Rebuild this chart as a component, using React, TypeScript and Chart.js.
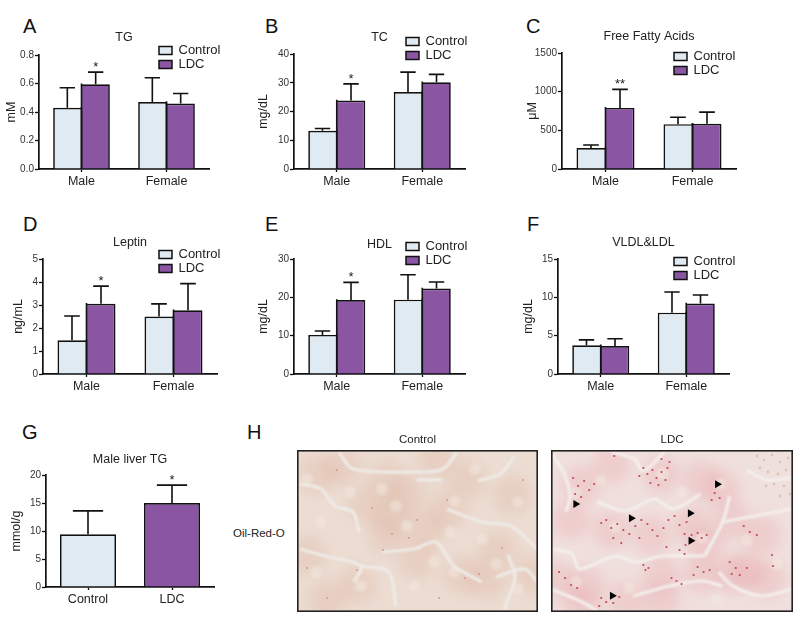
import React, { useEffect, useRef } from "react";
import { Chart, registerables } from "chart.js";

Chart.register(...registerables);

// ---------- data ----------
const sexCategories = ["Male", "Female"];
const groupCategories = ["Control", "LDC"];
const seriesNames = ["Control", "LDC"];

const tgControl = [0.43, 0.47];
const tgControlTop = [0.57, 0.64];
const tgLdc = [0.595, 0.46];
const tgLdcTop = [0.68, 0.53];
const tgMarks = ["*", ""];

const tcControl = [13.3, 26.8];
const tcControlTop = [14.1, 33.7];
const tcLdc = [23.8, 30.2];
const tcLdcTop = [29.6, 32.9];
const tcMarks = ["*", ""];

const ffaControl = [270, 580];
const ffaControlTop = [310, 670];
const ffaLdc = [790, 585];
const ffaLdcTop = [1030, 735];
const ffaMarks = ["**", ""];

const leptinControl = [1.47, 2.5];
const leptinControlTop = [2.52, 3.05];
const leptinLdc = [3.05, 2.77];
const leptinLdcTop = [3.82, 3.93];
const leptinMarks = ["*", ""];

const hdlControl = [10.2, 19.4];
const hdlControlTop = [11.2, 25.9];
const hdlLdc = [19.3, 22.3];
const hdlLdcTop = [23.9, 24];
const hdlMarks = ["*", ""];

const vldlControl = [3.75, 8.0];
const vldlControlTop = [4.45, 10.7];
const vldlLdc = [3.65, 9.2];
const vldlLdcTop = [4.6, 10.3];

const liverValues = [9.4, 15];
const liverTop = [13.6, 18.2];
const liverMarks = ["", "*"];

// Histology sketch (panel coordinates)
type P = [number, number];
const ctlPatches: P[] = [[45,17],[20,25],[96,65],[90,85],[130,80],[150,60],[200,100],[165,125],[190,130],[30,150],[90,30],[120,110],[215,45],[60,135],[10,105],[235,125],[170,30],[140,10],[70,55],[110,45]];
const ctlNuclei: P[] = [[158,51],[178,19],[199,114],[137,112],[85,39],[117,136],[64,136],[99,56],[157,122],[19,122],[221,139],[221,52],[10,29],[53,42],[185,89],[110,76],[24,72],[153,82]];
const ctlGaps: P[][] = [
  [[120,30],[133,30],[145,30]],
  [[181,31],[203,24],[218,6]],
  [[150,59],[185,72],[214,76],[240,99]],
  [[3,34],[24,39],[38,56],[56,62],[62,82]],
  [[42,2],[56,19],[121,22],[146,19],[160,2]],
  [[3,99],[28,106],[64,116],[57,132]],
  [[85,102],[117,99],[139,92],[157,116],[185,132]],
  [[64,116],[92,122],[99,156]],
  [[211,105],[218,127],[207,160]],
  [[199,127],[228,119],[240,132]],
];
const ctlDots: P[] = [[40,20],[75,58],[95,84],[120,70],[150,50],[205,98],[168,128],[30,148],[182,124],[112,88],[60,120],[142,148],[226,30],[10,118],[86,100]];

const ldcPatches: P[] = [[30,35],[60,15],[110,25],[150,30],[170,40],[20,70],[60,80],[100,85],[140,75],[155,95],[180,70],[195,120],[180,125],[35,135],[30,155],[110,125],[150,125],[215,130],[75,150],[110,150],[210,85],[5,130]];
const ldcNuclei: P[] = [[111,24],[24,43],[64,77],[169,34],[150,88],[25,132],[78,138],[165,150],[225,114],[195,90],[130,42],[50,30]];
const ldcGaps: P[][] = [
  [[0,4],[12,21],[19,46],[15,62]],
  [[60,2],[83,9],[92,21],[113,2]],
  [[46,52],[75,61],[103,49],[122,59],[149,44]],
  [[178,46],[171,72],[153,106]],
  [[171,72],[203,66],[240,59]],
  [[195,20],[215,30],[240,28]],
  [[0,99],[21,104],[28,119],[64,106],[85,112],[110,106],[153,106]],
  [[167,122],[181,136],[210,146],[240,139]],
  [[0,139],[31,152],[46,161]],
  [[82,146],[118,136],[150,131],[171,136]],
];
const ldcDots: P[] = [[92,18],[96,24],[101,20],[105,28],[110,22],[114,30],[99,33],[107,35],[116,18],[88,26],[22,28],[27,36],[33,31],[38,40],[24,44],[43,34],[30,47],[50,73],[55,70],[60,78],[66,74],[72,80],[78,84],[84,76],[90,70],[96,74],[101,80],[106,86],[112,78],[62,88],[70,93],[88,88],[117,70],[123,66],[128,75],[135,72],[133,84],[140,85],[146,83],[150,88],[155,85],[134,95],[128,100],[133,104],[163,43],[160,50],[168,48],[92,115],[94,120],[97,118],[146,117],[152,122],[158,120],[142,125],[178,112],[184,118],[180,124],[188,125],[195,118],[192,76],[198,82],[205,85],[8,122],[14,128],[20,135],[26,138],[50,148],[55,152],[62,153],[68,147],[48,156],[125,131],[130,134],[120,128],[110,9],[118,12],[63,6],[115,97],[221,116],[220,105]];
const ldcGrain: P[] = [[205,6],[212,10],[220,5],[228,12],[236,8],[208,18],[216,22],[226,24],[234,20],[222,34],[232,36],[238,44],[214,36],[228,46]];
const ldcArrows: P[] = [[165.7,34.3],[24.6,54],[138.6,63.3],[79.9,68.3],[139.3,90.7],[61,145.7]];

// ---------- styles ----------
const FONT = "'Liberation Sans', Arial, sans-serif";
const INK = "#111111";
const TEXT = "#222222";
const CONTROL_FILL = "#dfeaf2";
const LDC_FILL = "#8a55a3";

const errorPlugin = {
  id: "errorBarsAndMarks",
  afterDatasetsDraw(chart: any) {
    const { ctx, scales } = chart;
    chart.data.datasets.forEach((ds: any, di: number) => {
      const meta = chart.getDatasetMeta(di);
      meta.data.forEach((bar: any, i: number) => {
        const top = scales.y.getPixelForValue(ds.errorTop[i]);
        const base = scales.y.getPixelForValue(ds.data[i]);
        const zero = scales.y.getPixelForValue(0);
        const half = bar.width * 0.27;
        ctx.save();
        ctx.strokeStyle = INK;
        ctx.lineWidth = 1.6;
        ctx.beginPath();
        ctx.moveTo(bar.x, base);
        ctx.lineTo(bar.x, top);
        ctx.moveTo(bar.x - half, top);
        ctx.lineTo(bar.x + half, top);
        if (ds.sharedEdge) {
          const ex = bar.x + ds.sharedEdge * bar.width / 2;
          ctx.moveTo(ex, base - 0.8);
          ctx.lineTo(ex, zero);
        }
        ctx.stroke();
        const mark = ds.marks && ds.marks[i];
        if (mark) {
          ctx.fillStyle = TEXT;
          ctx.font = `13px ${FONT}`;
          ctx.textAlign = "center";
          ctx.textBaseline = "alphabetic";
          ctx.fillText(mark, bar.x, top - 1);
        }
        ctx.restore();
      });
    });
  },
};

const legendPlacer = {
  id: "legendPlacer",
  afterLayout(chart: any) {
    const at = chart.options.plugins.legendPlacer;
    const l = chart.legend;
    if (!at || at.left === undefined || !l) return;
    l.left = at.left;
    l.top = at.top;
    l.right = at.left + 120;
    l.bottom = at.top + 40;
  },
};

type Panel = {
  key: string; title: string; yLabel: string; yMax: number; yStep: number; decimals?: number;
  axisX: number; areaTop: number; areaBottom: number; plotWidth: number; labelX: number; titleY: number;
  legend?: [number, number]; labels: string[]; datasets: any[];
};

const side = (isLeft: boolean) => isLeft
  ? { top: 1.7, left: 1.7, right: 0, bottom: 0 }
  : { top: 1.7, left: 0, right: 1.7, bottom: 0 };

const twoSeries = (c: number[], cTop: number[], l: number[], lTop: number[], marks?: string[]) => [
  { label: seriesNames[0], data: c, errorTop: cTop, sharedEdge: 1, backgroundColor: CONTROL_FILL, borderColor: INK, borderWidth: side(true), borderSkipped: false },
  { label: seriesNames[1], data: l, errorTop: lTop, sharedEdge: -1, marks, backgroundColor: LDC_FILL, borderColor: INK, borderWidth: side(false), borderSkipped: false },
];

const PANELS: Panel[] = [
  { key: "A", title: "TG", yLabel: "mM", yMax: 0.8, yStep: 0.2, decimals: 1, axisX: 39, areaTop: 55, areaBottom: 169, plotWidth: 170, labelX: 10, titleY: 37, legend: [158, 43], labels: sexCategories, datasets: twoSeries(tgControl, tgControlTop, tgLdc, tgLdcTop, tgMarks) },
  { key: "B", title: "TC", yLabel: "mg/dL", yMax: 40, yStep: 10, axisX: 294, areaTop: 54, areaBottom: 169, plotWidth: 171, labelX: 262, titleY: 37, legend: [405, 34], labels: sexCategories, datasets: twoSeries(tcControl, tcControlTop, tcLdc, tcLdcTop, tcMarks) },
  { key: "C", title: "Free Fatty Acids", yLabel: "μM", yMax: 1500, yStep: 500, axisX: 562, areaTop: 53, areaBottom: 169, plotWidth: 174, labelX: 531, titleY: 36, legend: [673, 49], labels: sexCategories, datasets: twoSeries(ffaControl, ffaControlTop, ffaLdc, ffaLdcTop, ffaMarks) },
  { key: "D", title: "Leptin", yLabel: "ng/mL", yMax: 5, yStep: 1, axisX: 43, areaTop: 259, areaBottom: 374, plotWidth: 174, labelX: 17, titleY: 242, legend: [158, 247], labels: sexCategories, datasets: twoSeries(leptinControl, leptinControlTop, leptinLdc, leptinLdcTop, leptinMarks) },
  { key: "E", title: "HDL", yLabel: "mg/dL", yMax: 30, yStep: 10, axisX: 294, areaTop: 259, areaBottom: 374, plotWidth: 171, labelX: 262, titleY: 244, legend: [405, 239], labels: sexCategories, datasets: twoSeries(hdlControl, hdlControlTop, hdlLdc, hdlLdcTop, hdlMarks) },
  { key: "F", title: "VLDL&LDL", yLabel: "mg/dL", yMax: 15, yStep: 5, axisX: 558, areaTop: 259, areaBottom: 374, plotWidth: 171, labelX: 527, titleY: 242, legend: [673, 254], labels: sexCategories, datasets: twoSeries(vldlControl, vldlControlTop, vldlLdc, vldlLdcTop) },
  { key: "G", title: "Male liver TG", yLabel: "mmol/g", yMax: 20, yStep: 5, axisX: 46, areaTop: 475, areaBottom: 587, plotWidth: 168, labelX: 15, titleY: 459, labels: groupCategories, datasets: [
    { label: "Male liver TG", data: liverValues, errorTop: liverTop, marks: liverMarks, backgroundColor: [CONTROL_FILL, LDC_FILL], borderColor: INK, borderWidth: { top: 1.7, left: 1.7, right: 1.7, bottom: 0 }, borderSkipped: false },
  ] },
];

const letters: [string, number, number][] = [
  ["A", 23, 15], ["B", 265, 15], ["C", 526, 15],
  ["D", 23, 213], ["E", 265, 213], ["F", 527, 213],
  ["G", 22, 421], ["H", 247, 421],
];

const TITLE_FONT = 12.5;
const LINE = TITLE_FONT * 1.2;
const X_AXIS_H = 22;
const RIGHT_PAD = 30;

function barConfig(p: Panel) {
  const yw = p.axisX - p.labelX + 6;
  const canvasTop = Math.round(p.titleY - LINE / 2);
  const width = yw + p.plotWidth + RIGHT_PAD;
  const height = p.areaBottom + X_AXIS_H - canvasTop;
  const titlePad = p.areaTop - canvasTop - LINE;
  const left = p.axisX - yw;
  return {
    box: { left, top: canvasTop, width, height },
    config: {
      type: "bar",
      data: { labels: p.labels, datasets: p.datasets },
      plugins: [errorPlugin, legendPlacer],
      options: {
        responsive: false,
        animation: false,
        layout: { padding: { left: 0, right: RIGHT_PAD, top: 0, bottom: 0 } },
        datasets: { bar: { categoryPercentage: 0.667, barPercentage: 1 } },
        plugins: {
          tooltip: { enabled: false },
          title: {
            display: true, text: p.title, fullSize: false, color: TEXT,
            font: { family: FONT, size: TITLE_FONT, weight: "normal", lineHeight: 1.2 },
            padding: { top: 0, bottom: titlePad },
          },
          legend: p.legend ? {
            display: true, position: "chartArea", align: "start",
            labels: {
              boxWidth: 13, boxHeight: 8, padding: 1, color: TEXT,
              font: { family: FONT, size: 13 },
              generateLabels: (chart: any) =>
                (Chart as any).defaults.plugins.legend.labels.generateLabels(chart).map((it: any) => ({ ...it, lineWidth: 1.5 })),
            },
          } : { display: false },
          legendPlacer: p.legend ? { left: p.legend[0] - left, top: p.legend[1] - canvasTop } : {},
        },
        scales: {
          x: {
            type: "category", offset: true,
            afterFit: (s: any) => { s.height = X_AXIS_H; },
            border: { color: INK, width: 1.7 },
            grid: { offset: false, drawOnChartArea: false, drawTicks: true, tickLength: 3, tickColor: INK, tickWidth: 1.3 },
            ticks: { color: TEXT, padding: 2, maxRotation: 0, autoSkip: false, font: { family: FONT, size: 12.5 } },
          },
          y: {
            type: "linear", min: 0, max: p.yMax,
            afterFit: (s: any) => { s.width = yw; },
            border: { color: INK, width: 1.7 },
            grid: { drawOnChartArea: false, drawTicks: true, tickLength: 4, tickColor: INK, tickWidth: 1.3 },
            ticks: {
              stepSize: p.yStep, padding: 1, color: "#333333", font: { family: FONT, size: 10 },
              callback: (v: number) => (p.decimals ? v.toFixed(p.decimals) : String(v)),
            },
            title: { display: true, text: p.yLabel, color: TEXT, padding: 0, font: { family: FONT, size: 12.5, lineHeight: 1.2 } },
          },
        },
      },
    },
  };
}

const toXY = (pts: P[]) => pts.map(([x, y]) => ({ x, y }));

const photoPlugin = {
  id: "photo",
  beforeDatasetsDraw(chart: any) {
    const { ctx, chartArea: a } = chart;
    ctx.save();
    ctx.fillStyle = chart.options.plugins.photo.base;
    ctx.fillRect(a.left, a.top, a.right - a.left, a.bottom - a.top);
    ctx.restore();
  },
  beforeDatasetDraw(chart: any, args: any) {
    const b = chart.data.datasets[args.index].blur;
    chart.ctx.save();
    if (b) chart.ctx.filter = `blur(${b}px)`;
  },
  afterDatasetDraw(chart: any) {
    chart.ctx.restore();
  },
  afterDatasetsDraw(chart: any) {
    const { ctx, chartArea: a } = chart;
    ctx.save();
    ctx.strokeStyle = "#222222";
    ctx.lineWidth = 1.6;
    ctx.strokeRect(a.left + 0.8, a.top + 0.8, a.right - a.left - 1.6, a.bottom - a.top - 1.6);
    ctx.restore();
  },
};

function photoConfig(title: string, base: string, patch: string, patches: P[], nuclei: P[], gaps: P[][], dots: P[], dotColor: string, dotR: number, grain: P[], arrows: P[], gapColor: string) {
  const pts = (data: P[], color: string, r: number, blur: number, extra: any = {}) => ({
    data: toXY(data), showLine: false, pointRadius: r, pointBorderWidth: 0, pointBackgroundColor: color, blur, ...extra,
  });
  // Chart.js paints the last dataset first, so the top layer comes first here.
  return {
    type: "scatter",
    data: {
      datasets: [
        pts(arrows, "#000000", 4.6, 0, { pointStyle: "triangle", pointRotation: 90 }),
        pts(dots, dotColor, dotR, 0.4),
        pts(grain, "#d8c7b2", 1.4, 0.3),
        pts(nuclei, "rgba(243,234,226,0.5)", 6, 1.5),
        ...gaps.map((g) => ({ data: toXY(g), showLine: true, pointRadius: 0, borderColor: gapColor, borderWidth: 3.2, tension: 0.3, blur: 1.2 })),
        pts(patches, patch, 19, 6),
      ],
    },
    plugins: [photoPlugin],
    options: {
      responsive: false,
      animation: false,
      layout: { padding: 0, autoPadding: false },
      plugins: {
        legend: { display: false },
        tooltip: { enabled: false },
        photo: { base },
        title: {
          display: true, text: title, color: TEXT,
          font: { family: FONT, size: 11.5, weight: "normal", lineHeight: 1.2 },
          padding: { top: 0, bottom: 3.2 },
        },
      },
      scales: {
        x: { type: "linear", display: false, min: 0, max: 241 },
        y: { type: "linear", display: false, reverse: true, min: 0, max: 162 },
      },
    },
  };
}

const PHOTOS = [
  { box: { left: 297, top: 433, width: 241, height: 179 }, config: photoConfig("Control", "#ecdcd2", "rgba(215,160,135,0.2)", ctlPatches, ctlNuclei, ctlGaps, ctlDots, "rgba(205,120,115,0.7)", 0.9, [], [], "#eeebe7") },
  { box: { left: 551, top: 433, width: 242, height: 179 }, config: photoConfig("LDC", "#f0e0dd", "rgba(228,135,145,0.2)", ldcPatches, ldcNuclei, ldcGaps, ldcDots, "#c4465c", 1.1, ldcGrain, ldcArrows, "#f3efec") },
];

export default function App() {
  const root = useRef<HTMLDivElement>(null);
  useEffect(() => {
    const host = root.current!;
    const charts: Chart[] = [];
    const items = [...PANELS.map(barConfig), ...PHOTOS];
    items.forEach(({ box, config }) => {
      const canvas = document.createElement("canvas");
      canvas.width = box.width;
      canvas.height = box.height;
      canvas.style.cssText = `position:absolute;left:${box.left}px;top:${box.top}px;width:${box.width}px;height:${box.height}px;display:block;`;
      host.appendChild(canvas);
      charts.push(new Chart(canvas, config as any));
    });
    return () => {
      charts.forEach((c) => {
        const el = c.canvas;
        c.destroy();
        el.remove();
      });
    };
  }, []);
  return (
    <div ref={root} style={{ position: "absolute", left: 0, top: 0, width: 800, height: 621, background: "#fff", overflow: "hidden", fontFamily: FONT }}>
      {letters.map(([t, x, y]) => (
        <div key={t} style={{ position: "absolute", left: x, top: y, fontSize: 20, lineHeight: "22px", color: "#111" }}>{t}</div>
      ))}
      <div style={{ position: "absolute", left: 233, top: 526, fontSize: 11.5, lineHeight: "14px", color: TEXT }}>Oil-Red-O</div>
    </div>
  );
}
